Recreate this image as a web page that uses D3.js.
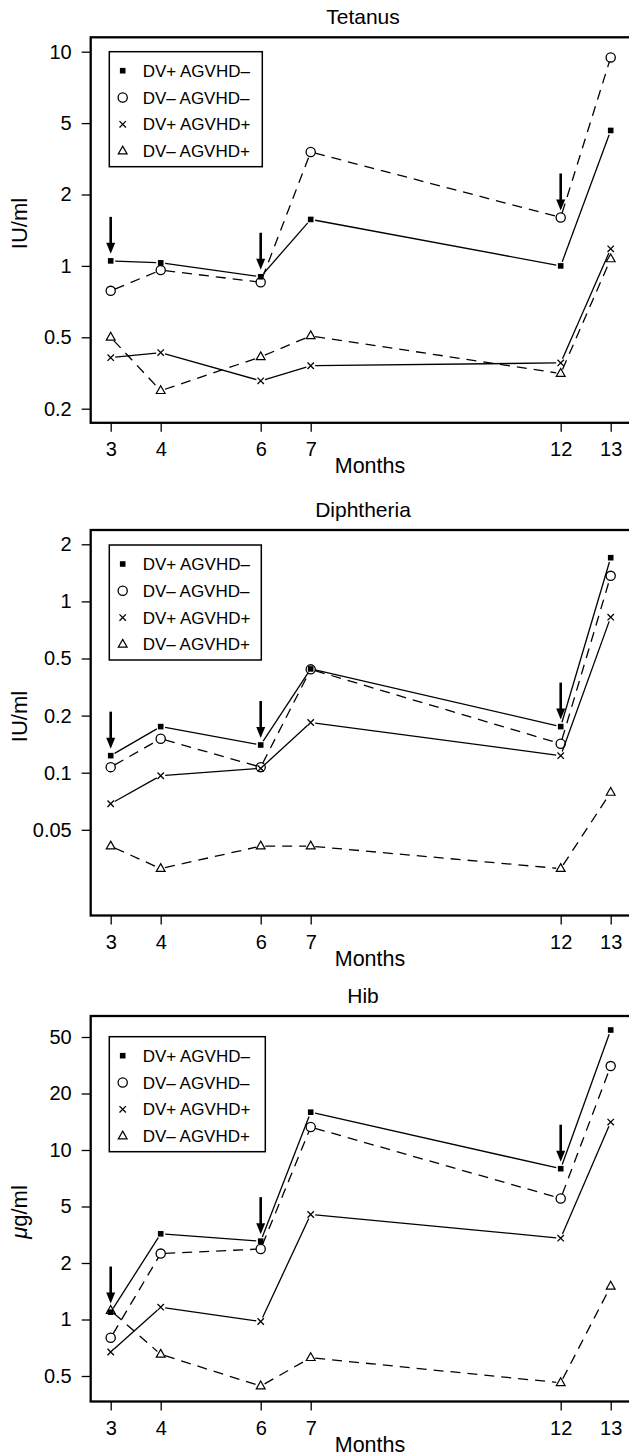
<!DOCTYPE html>
<html>
<head>
<meta charset="utf-8">
<script src="https://cdn.jsdelivr.net/npm/d3@7"></script>
<style>
  body { margin: 0; background: #fff; }
  svg { display: block; font-family: "Liberation Sans", Arial, sans-serif; }
</style>
</head>
<body>
<div id="chart"></div>
<script>
// months of sampling, shared by all three panels
var months = [3, 4, 6, 7, 12, 13];
var boosterMonths = [3, 6, 12];
var seriesNames = ["DV+ AGVHD\u2013", "DV\u2013 AGVHD\u2013", "DV+ AGVHD+", "DV\u2013 AGVHD+"];

// Tetanus (IU/ml)
var tetanusTicks = [10, 5, 2, 1, 0.5, 0.2];
var tetanusA = [1.05, 1.03, 0.90, 1.57, 1.0, 4.55];
var tetanusB = [0.785, 0.96, 0.853, 3.45, 1.60, 9.46];
var tetanusC = [0.385, 0.411, 0.286, 0.347, 0.36, 1.18];
var tetanusD = [0.5, 0.252, 0.389, 0.507, 0.314, 1.07];

// Diphtheria (IU/ml)
var diphtheriaTicks = [2, 1, 0.5, 0.2, 0.1, 0.05];
var diphtheriaA = [0.123, 0.175, 0.140, 0.423, 0.175, 1.70];
var diphtheriaB = [0.107, 0.151, 0.107, 0.42, 0.142, 1.364];
var diphtheriaC = [0.0686, 0.0964, 0.1054, 0.184, 0.123, 0.826];
var diphtheriaD = [0.041, 0.0312, 0.041, 0.041, 0.0312, 0.0787];

// Hib (ug/ml)
var hibTicks = [50, 20, 10, 5, 2, 1, 0.5];
var hibA = [1.094, 3.21, 2.85, 15.9, 7.95, 56];
var hibB = [0.799, 2.33, 2.51, 13.25, 5.52, 31.2];
var hibC = [0.671, 1.163, 0.976, 4.39, 2.99, 14.08];
var hibD = [1.116, 0.652, 0.442, 0.626, 0.46, 1.503];

var svgWidth = 629;
var svgHeight = 1456;
var frameLeft = 90.7;
var frameRight = 636;
var frameH = 385.5;

// layout of each panel (pixel positions only)
var panels = [
  { title: "Tetanus", unit: "IU/ml", ticks: tetanusTicks,
    series: [tetanusA, tetanusB, tetanusC, tetanusD],
    top: 37.3, firstTick: 51.7, tickStep: 71.4, labelY: 223.5,
    legendTop: 51.7, legendW: 153 },
  { title: "Diphtheria", unit: "IU/ml", ticks: diphtheriaTicks,
    series: [diphtheriaA, diphtheriaB, diphtheriaC, diphtheriaD],
    top: 530, firstTick: 544.3, tickStep: 57.1, labelY: 716.5,
    legendTop: 545, legendW: 152 },
  { title: "Hib", unit: "mu", ticks: hibTicks,
    series: [hibA, hibB, hibC, hibD],
    top: 1016, firstTick: 1037, tickStep: 56.5, labelY: 1212,
    legendTop: 1036.7, legendW: 156 }
];

var dashed = [false, true, false, true];
var lineGap = 4.5;

var svg = d3.select("#chart")
  .append("svg")
  .attr("width", svgWidth)
  .attr("height", svgHeight);

svg.append("rect")
  .attr("width", svgWidth)
  .attr("height", svgHeight)
  .attr("fill", "#fff");

var xScale = d3.scaleLinear()
  .domain([3, 13])
  .range([110.7, 610.7]);

// draw one marker of a given kind into a group
function drawMarker(g, kind, x, y) {
  if (kind === 0) {
    g.append("rect")
      .attr("x", x - 2.8).attr("y", y - 2.8)
      .attr("width", 5.6).attr("height", 5.6)
      .attr("fill", "#000");
  } else if (kind === 1) {
    g.append("circle")
      .attr("cx", x).attr("cy", y).attr("r", 4.6)
      .attr("fill", "none").attr("stroke", "#000").attr("stroke-width", 1.3);
  } else if (kind === 2) {
    var s = 3.2;
    g.append("path")
      .attr("d", `M${x - s},${y - s}L${x + s},${y + s}M${x - s},${y + s}L${x + s},${y - s}`)
      .attr("stroke", "#000").attr("stroke-width", 1.3).attr("fill", "none");
  } else {
    g.append("path")
      .attr("d", `M${x},${y - 5}L${x + 4.4},${y + 2.8}L${x - 4.4},${y + 2.8}Z`)
      .attr("stroke", "#000").attr("stroke-width", 1.2).attr("fill", "none");
  }
}

panels.forEach(function(p) {
  var bottom = p.top + frameH;
  var g = svg.append("g");

  // equally spaced labelled ticks, log interpolation between them
  var yRange = p.ticks.map((t, i) => p.firstTick + i * p.tickStep);
  var yScale = d3.scaleLog()
    .domain(p.ticks)
    .range(yRange);

  // y axis
  var leftAxis = d3.axisLeft(yScale)
    .tickValues(p.ticks)
    .tickFormat(d => String(d))
    .tickSize(9)
    .tickPadding(10);
  var yAxis = g.append("g")
    .attr("transform", `translate(${frameLeft},0)`)
    .call(leftAxis);
  yAxis.select(".domain").remove();
  yAxis.selectAll("line").attr("stroke-width", 1.3);
  yAxis.selectAll("text")
    .attr("font-size", "20px")
    .attr("font-family", "'Liberation Sans', Arial, sans-serif")
    .attr("fill", "#000");

  // x axis
  var bottomAxis = d3.axisBottom(xScale)
    .tickValues(months)
    .tickFormat(d => String(d))
    .tickSize(9)
    .tickPadding(10);
  var xAxis = g.append("g")
    .attr("transform", `translate(0,${bottom})`)
    .call(bottomAxis);
  xAxis.select(".domain").remove();
  xAxis.selectAll("line").attr("stroke-width", 1.3);
  xAxis.selectAll("text")
    .attr("font-size", "20px")
    .attr("font-family", "'Liberation Sans', Arial, sans-serif")
    .attr("fill", "#000");

  // frame
  g.append("rect")
    .attr("x", frameLeft)
    .attr("y", p.top)
    .attr("width", frameRight - frameLeft)
    .attr("height", frameH)
    .attr("fill", "none")
    .attr("stroke", "#000")
    .attr("stroke-width", 2.3);

  // title and axis labels
  g.append("text")
    .attr("x", 363)
    .attr("y", p.top - 13)
    .attr("text-anchor", "middle")
    .attr("font-size", "21px")
    .text(p.title);

  g.append("text")
    .attr("x", 370)
    .attr("y", bottom + 50)
    .attr("text-anchor", "middle")
    .attr("font-size", "21.5px")
    .text("Months");

  var ylab = g.append("text")
    .attr("transform", `translate(27,${p.labelY}) rotate(-90)`)
    .attr("text-anchor", "middle")
    .attr("font-size", "22px");
  if (p.unit === "mu") {
    ylab.append("tspan").attr("font-style", "italic").text("\u03bc");
    ylab.append("tspan").text("g/ml");
  } else {
    ylab.text(p.unit);
  }

  // lines, with a small gap around each point
  p.series.forEach(function(vals, si) {
    var pts = vals.map((v, i) => [xScale(months[i]), yScale(v)]);
    for (var i = 0; i < pts.length - 1; i++) {
      var a = pts[i], b = pts[i + 1];
      var dx = b[0] - a[0], dy = b[1] - a[1];
      var len = Math.sqrt(dx * dx + dy * dy);
      if (len <= 2 * lineGap) continue;
      var ux = dx / len, uy = dy / len;
      g.append("line")
        .attr("x1", a[0] + ux * lineGap).attr("y1", a[1] + uy * lineGap)
        .attr("x2", b[0] - ux * lineGap).attr("y2", b[1] - uy * lineGap)
        .attr("stroke", "#000")
        .attr("stroke-width", 1.3)
        .attr("stroke-dasharray", dashed[si] ? "10,7" : null);
    }
  });

  // markers
  p.series.forEach(function(vals, si) {
    vals.forEach(function(v, i) {
      drawMarker(g, si, xScale(months[i]), yScale(v));
    });
  });

  // booster arrows above the highest point
  boosterMonths.forEach(function(m) {
    var idx = months.indexOf(m);
    var top = d3.max(p.series, s => s[idx]);
    var x = xScale(m);
    var tip = yScale(top) - 7;
    g.append("line")
      .attr("x1", x).attr("y1", tip - 37)
      .attr("x2", x).attr("y2", tip - 8)
      .attr("stroke", "#000")
      .attr("stroke-width", 2.6);
    g.append("path")
      .attr("d", `M${x - 4.5},${tip - 11}L${x + 4.5},${tip - 11}L${x},${tip}Z`)
      .attr("fill", "#000");
  });

  // legend
  var lg = g.append("g");
  lg.append("rect")
    .attr("x", 109.3)
    .attr("y", p.legendTop)
    .attr("width", p.legendW)
    .attr("height", 115)
    .attr("fill", "#fff")
    .attr("stroke", "#000")
    .attr("stroke-width", 1.5);
  seriesNames.forEach(function(name, i) {
    var cy = p.legendTop + 19 + i * 26.8;
    drawMarker(lg, i, 122.7, cy);
    lg.append("text")
      .attr("x", 142.7)
      .attr("y", cy + 6)
      .attr("font-size", "17px")
      .text(name);
  });
});
</script>
</body>
</html>
